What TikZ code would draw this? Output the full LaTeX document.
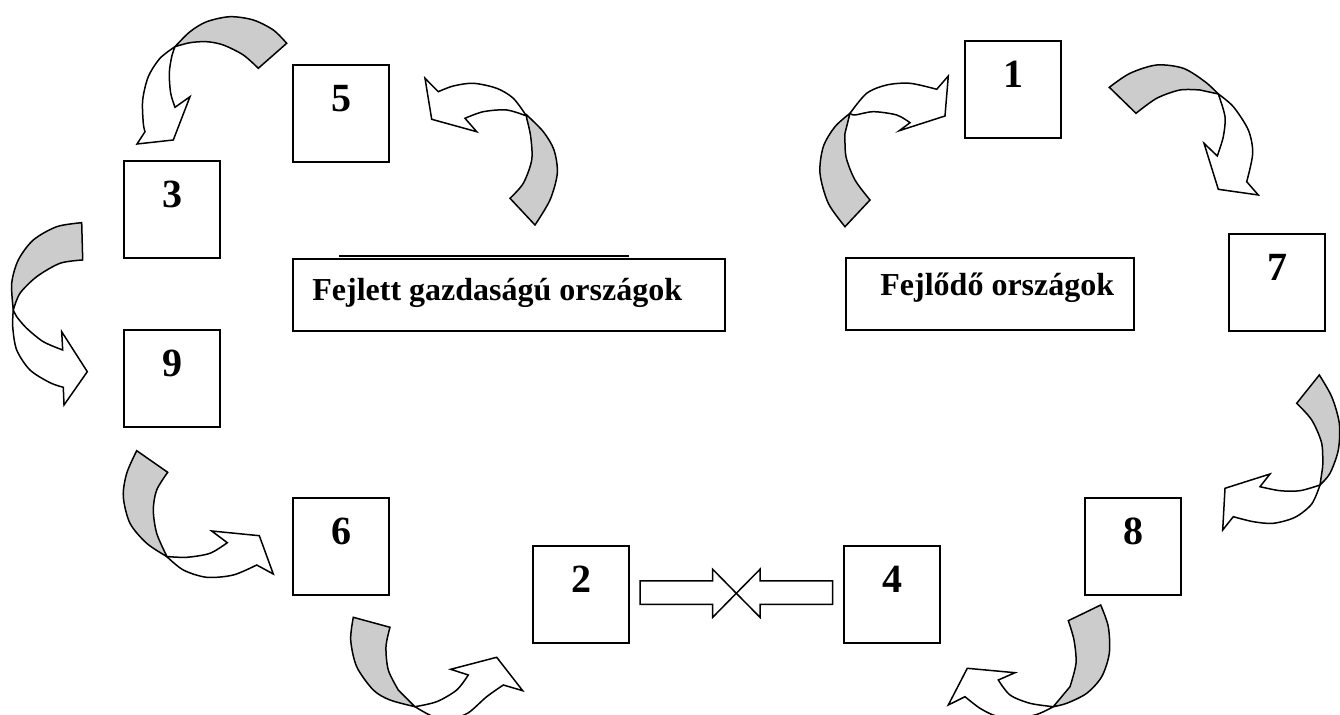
\documentclass[tikz,border=0pt]{standalone}
\usepackage{fontspec}
\setmainfont{Liberation Serif}
\definecolor{bandgray}{RGB}{204,204,204}
\begin{document}
\begin{tikzpicture}[x=0.5pt,y=-0.5pt,
  box/.style={draw, line width=1pt, minimum width=48pt, minimum height=48.5pt, inner sep=0pt, anchor=north west},
  lblbox/.style={draw, line width=1pt, minimum height=36pt, inner sep=0pt, anchor=north west},
  num/.style={font=\fontsize{20}{24}\selectfont\bfseries, anchor=base, inner sep=0pt},
  lbl/.style={font=\fontsize{16}{19}\selectfont\bfseries, anchor=base west, inner sep=0pt},
  back/.style={fill=bandgray, draw, line width=0.75pt, line join=miter},
  front/.style={fill=white, draw, line width=0.75pt, line join=miter},
  blockarrow/.style={fill=white, draw, line width=0.75pt, line join=miter}]
\useasboundingbox (0,0) rectangle (1340,715);
\clip (0,0) rectangle (1340,715);

% ---------- boxes ----------
\node[box] (b5) at (292,64) {};
\node[box] (b3) at (123,160) {};
\node[box] (b9) at (123,329) {};
\node[box] (b6) at (292,497) {};
\node[box] (b2) at (532,545) {};
\node[box] (b4) at (843,545) {};
\node[box] (b8) at (1084,497) {};
\node[box] (b7) at (1228,233) {};
\node[box] (b1) at (964,40) {};

\foreach \b/\t in {b5/5,b3/3,b9/9,b6/6,b2/2,b4/4,b8/8,b7/7,b1/1}
  \node[num] (n\t) at ([yshift=-24pt]\b.north) {\t};

% label boxes
\node[lblbox, minimum width=216pt] (fej) at (292,258) {};
\node[lbl] (fejt) at ([xshift=10pt,yshift=-3pt]fej.west) {Fejlett gazdaságú országok};
\draw[line width=0.6pt] (339,256) -- (629,256);
\node[lblbox, minimum width=144pt] (fejl) at (845,257) {};
\node[lbl] (fejlt) at ([xshift=17.5pt,yshift=-0.75pt]fejl.west) {Fejlődő országok};

% ---------- block arrows between 2 and 4 ----------
\draw[blockarrow] (640,581) -- (712.7,581) -- (712.7,569.3) -- (736.3,593.3) -- (712.7,617.3) -- (712.7,604.3) -- (640,604.3) -- cycle;
\draw[blockarrow] (832.7,581) -- (760,581) -- (760,569.3) -- (736.3,593.3) -- (760,617.3) -- (760,604.3) -- (832.7,604.3) -- cycle;

% ---------- curved arrows ----------
% A: top left (towards 3)
\filldraw[back] plot[smooth] coordinates {(175,46.7) (190,31.7) (206.7,21.7) (230,16.7) (253.3,20) (273.3,30) (286.7,43.3)}
  -- plot[smooth] coordinates {(258.3,68.3) (243.3,55) (223.3,45) (206.7,41.7) (190,42.7) (175,46.7)} -- cycle;
\filldraw[front] plot[smooth] coordinates {(175,46.7) (160,58.3) (148.3,76.7) (142.7,100) (143.3,123.3) (145,131.7)}
  -- (137,144) -- (173.3,140) -- (190,96.7) --
  plot[smooth] coordinates {(175,107.3) (170.7,93.3) (169.3,73.3) (171.7,56.7) (175,46.7)} -- cycle;

% B: right of 5 (towards 5)
\filldraw[back] plot[smooth] coordinates {(526.7,115) (543.3,131.7) (554,150) (557.3,173.3) (550,200) (535,225)}
  -- plot[smooth] coordinates {(510,198.3) (523.3,183.3) (531.7,160) (530.7,136.7) (526.7,118.3)} -- cycle;
\filldraw[front] plot[smooth] coordinates {(526.5,116) (513.3,98.3) (496.7,88.3) (473.3,83.3) (453.3,86) (438.3,91.7)}
  -- (425,78.3) -- (431.7,119.3) -- (476.7,131.7) --
  plot[smooth] coordinates {(465,118.3) (483.3,111.7) (506.7,110) (526.5,116)} -- cycle;

% C: 3 -> 9
\filldraw[back] plot[smooth] coordinates {(13.3,310) (11.7,283.3) (18.3,260) (33.3,240) (56.7,226.7) (81.7,222.7)}
  -- plot[smooth] coordinates {(82.7,260) (60,263.3) (36.7,276.7) (20,293.3) (13.3,310)} -- cycle;
\filldraw[front] plot[smooth] coordinates {(13.3,310) (12.7,326.7) (16.7,350) (30,370) (50,382.7) (63.3,387.3)}
  -- (64,405) -- (87.3,371.7) -- (61.7,331.7) --
  plot[smooth] coordinates {(62.7,350) (43.3,341.7) (26.7,328.3) (16.7,316.7) (13.3,310)} -- cycle;

% D: 9 -> 6
\filldraw[back] plot[smooth] coordinates {(136.7,450.7) (126.7,473.3) (123.3,496.7) (130,523.3) (146.7,543.3) (166.7,556.5)}
  -- plot[smooth] coordinates {(166.7,556) (156.7,533.3) (153.3,510) (156.7,490) (167.7,472.3)} -- cycle;
\filldraw[front] plot[smooth] coordinates {(166.7,556.5) (183.3,570) (206.7,577.3) (233.3,575) (256.7,565)}
  -- (273.3,574) -- (259.3,535.7) -- (211.7,531) --
  plot[smooth] coordinates {(227.3,542.7) (210,553.3) (186.7,557.3) (166.7,556.5)} -- cycle;

% E: 6 -> 2
\filldraw[back] plot[smooth] coordinates {(353.3,617.3) (350.7,640) (356.7,666.7) (373.3,690) (390,700) (415,706.7)}
  -- plot[smooth] coordinates {(398.3,690) (388.3,670) (386,646.7) (390,627.3)} -- cycle;
\filldraw[front] plot[smooth] coordinates {(415,706.7) (432,716) (450,719) (468,713) (486.7,696.7) (503.3,685)}
  -- (522.7,690.7) -- (496.7,657.3) -- (450.7,669.3) --
  plot[smooth] coordinates {(468.3,675) (456.7,690) (436.7,701.7) (415,706.7)} -- cycle;

% F: 8 -> 4
\filldraw[back] plot[smooth] coordinates {(1100.7,605) (1108.3,626.7) (1109.3,653.3) (1101.7,676.7) (1086.7,693.3) (1066.7,703.3) (1053.3,706.7)}
  -- plot[smooth] coordinates {(1070,686.7) (1076,663.3) (1074,640) (1068.3,620.7)} -- cycle;
\filldraw[front] plot[smooth] coordinates {(1053.3,706.7) (1030,703.3) (1010,695) (998.3,680)}
  -- (1015,672.7) -- (967.3,668.3) -- (948.3,705) --
  plot[smooth] coordinates {(965,696.7) (980,708.3) (996,716) (1016,719) (1038,714) (1053.3,706.7)} -- cycle;

% G: 7 -> 8
\filldraw[back] plot[smooth] coordinates {(1319.3,375) (1331.7,396.7) (1339.3,423.3) (1338.3,450) (1330,473.3) (1320,485)}
  -- plot[smooth] coordinates {(1322.7,466.7) (1321.7,443.3) (1311.7,420) (1296.7,403.3)} -- cycle;
\filldraw[front] plot[smooth] coordinates {(1320,485) (1300,490.7) (1280,490.7) (1260,486.7)}
  -- (1270,474) -- (1225,488.3) -- (1222.7,530) --
  plot[smooth] coordinates {(1233.3,516.7) (1253.3,521.7) (1273.3,523.3) (1295,517.3) (1311.7,504) (1320,485)} -- cycle;

% H: towards 1 (left of 1)
\filldraw[back] plot[smooth] coordinates {(845,226.7) (828.3,203.3) (820,173.3) (823.3,146.7) (835,126.7) (850,113.3)}
  -- plot[smooth] coordinates {(845,133.3) (846,156.7) (855,180) (870,200)} -- cycle;
\filldraw[front] plot[smooth] coordinates {(850,113.3) (866.7,93.3) (886.7,85) (910,83.3) (936.7,89.3)}
  -- (948.3,76) -- (945,116) -- (899.3,130.7) --
  plot[smooth] coordinates {(910,122.7) (896.7,115) (873.3,111.7) (855,115) (850,113.3)} -- cycle;

% I: 1 -> 7
\filldraw[back] plot[smooth] coordinates {(1109.3,87.3) (1130,73.3) (1156.7,65) (1183.3,68.3) (1205,81.7) (1218.3,94)}
  -- plot[smooth] coordinates {(1200,90) (1180,90) (1156.7,98.3) (1136,113.3)} -- cycle;
\filldraw[front] plot[smooth] coordinates {(1218.3,94) (1233.3,106.7) (1248.3,130) (1252.7,153.3) (1246.7,181.7)}
  -- (1258.3,195) -- (1218.3,189.3) -- (1204,143.3) --
  plot[smooth] coordinates {(1217.3,156) (1223.3,136.7) (1225,116.7) (1218.3,94)} -- cycle;
\end{tikzpicture}
\end{document}
